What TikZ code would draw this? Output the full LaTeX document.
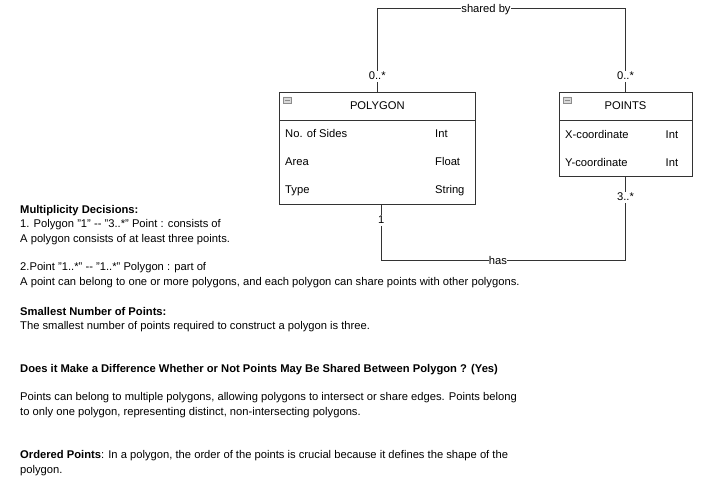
\documentclass[tikz,border=0pt]{standalone}
\usepackage{fontspec}
\setmainfont{Liberation Sans}
\usetikzlibrary{positioning}

\begin{document}
\begin{tikzpicture}[x=1pt, y=-1pt, every node/.style={font=\fontsize{11.2}{13}\selectfont, inner sep=1pt},
  classhead/.style={draw=black!80, rectangle, minimum width=196, minimum height=28},
  classbody/.style={draw=black!80, rectangle, minimum width=196, anchor=north},
  txt/.style={anchor=west, inner sep=0pt, text height=8.5, text depth=2},
  lbl/.style={fill=white, inner sep=1pt, text height=8, text depth=1}]
\useasboundingbox (0,0) rectangle (704,485);
% class boxes
\node (PolyHead) [classhead] at (377.3,106) {POLYGON};
\node (PolyBody) [classbody, minimum height=84, below=0pt of PolyHead] {};
\node (PtsHead) [classhead, minimum width=132.4] at (625.5,106) {POINTS};
\node (PtsBody) [classbody, minimum width=132.4, minimum height=56, below=0pt of PtsHead] {};
\foreach \h in {PolyHead, PtsHead}
  \draw[fill=black!15, draw=black!45] ([xshift=4,yshift=-5]\h.north west) rectangle ++(8,6)
    ([xshift=5.5,yshift=-8]\h.north west) -- ++(5,0);
% attributes
\node (Sides) [txt] at (285,134) {No. of Sides};
\node (SidesT) [txt] at (435,134) {Int};
\node (Area) [txt] at (285,162) {Area};
\node (AreaT) [txt] at (435,162) {Float};
\node (Type) [txt] at (285,190) {Type};
\node (TypeT) [txt] at (435,190) {String};
\node (Xc) [txt] at (565,135) {X-coordinate};
\node (XcT) [txt] at (665.5,135) {Int};
\node (Yc) [txt] at (565,163) {Y-coordinate};
\node (YcT) [txt] at (665.5,163) {Int};
% associations
\coordinate (SharedL) at (377.3,8);
\coordinate (SharedR) at (625.5,8);
\coordinate (HasL) at (381.3,260);
\coordinate (HasR) at (625.5,260);
\draw[black!80] (PolyHead.north) -- (SharedL) -- (SharedR) -- (PtsHead.north);
\draw[black!80] ([xshift=4]PolyBody.south) -- (HasL) -- (HasR) -- (PtsBody.south);
\node (SharedBy) [lbl, inner sep=0pt] at (486,8.5) {shared by};
\node (MultL) [lbl] at (377.3,76) {0..*};
\node (MultR) [lbl] at (625.5,76) {0..*};
\node (Has) [lbl, inner sep=0pt] at (498,261) {has};
\node (One) [lbl] at (381.3,220) {1};
\node (Three) [lbl] at (625.5,197) {3..*};
% notes
\node (M1) [txt] at (20,210) {\bfseries Multiplicity Decisions:};
\node (M2) [txt] at (20,224.5) {1. Polygon "1" -{}- "3..*" Point : consists of};
\node (M3) [txt] at (20,239) {A polygon consists of at least three points.};
\node (M4) [txt] at (20,267.5) {2.Point "1..*" -{}- "1..*" Polygon : part of};
\node (M5) [txt] at (20,282.5) {A point can belong to one or more polygons, and each polygon can share points with other polygons.};
\node (S1) [txt] at (20,312) {\bfseries Smallest Number of Points:};
\node (S2) [txt] at (20,326.5) {The smallest number of points required to construct a polygon is three.};
\node (D1) [txt] at (20,369.5) {\bfseries Does it Make a Difference Whether or Not Points May Be Shared Between Polygon ? (Yes)};
\node (D2) [txt] at (20,397.5) {Points can belong to multiple polygons, allowing polygons to intersect or share edges. Points belong};
\node (D3) [txt] at (20,412.5) {to only one polygon, representing distinct, non-intersecting polygons.};
\node (O1) [txt] at (20,455.5) {\textbf{Ordered Points}: In a polygon, the order of the points is crucial because it defines the shape of the};
\node (O2) [txt] at (20,470.5) {polygon.};
\end{tikzpicture}
\end{document}
